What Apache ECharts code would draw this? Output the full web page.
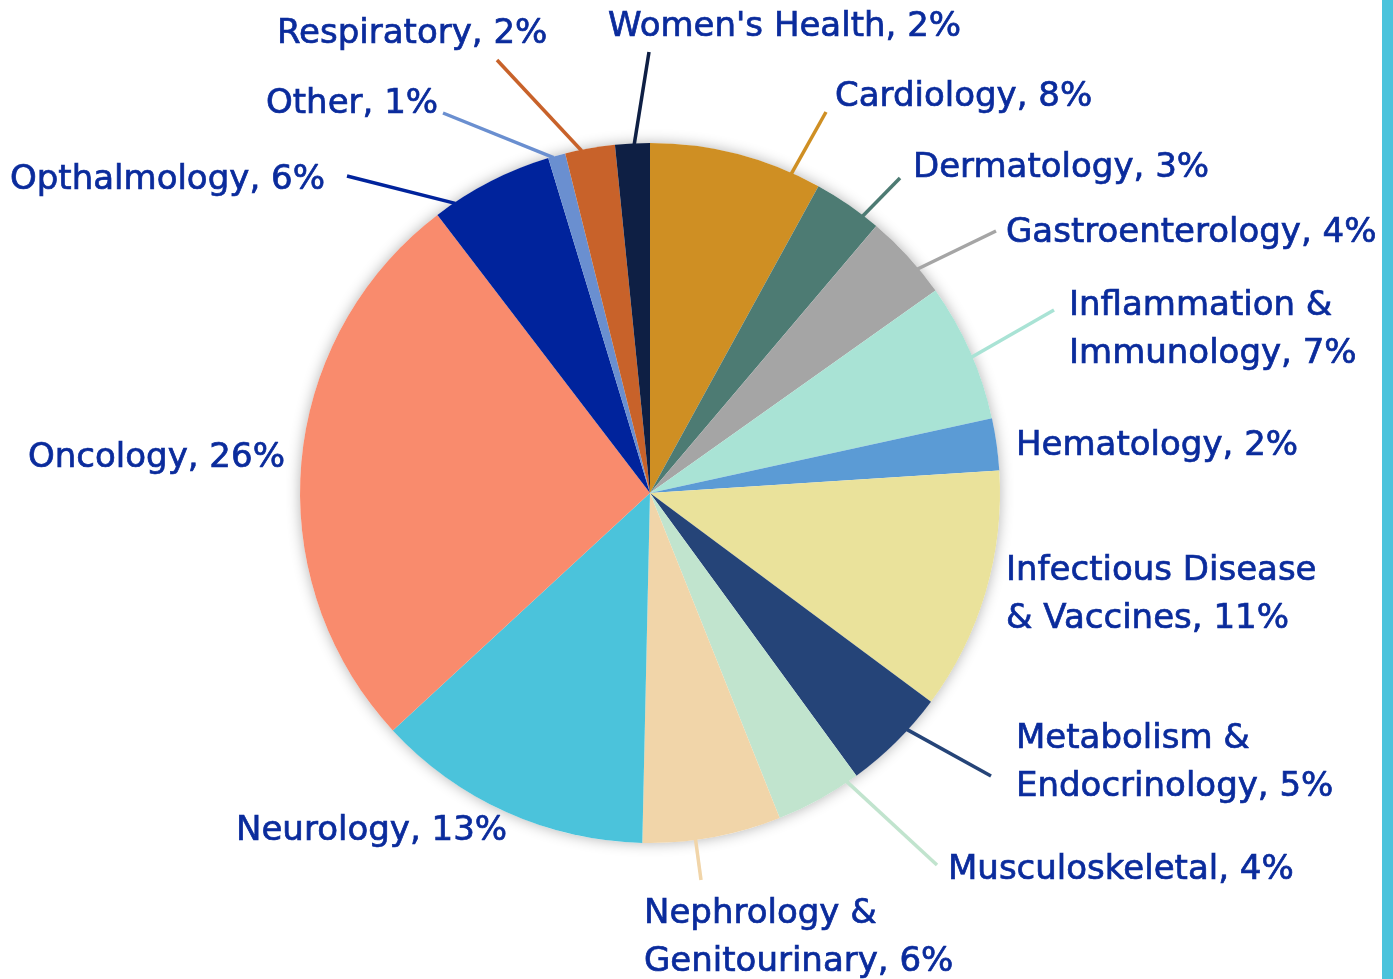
<!DOCTYPE html>
<html>
<head>
<meta charset="utf-8">
<script src="https://cdn.jsdelivr.net/npm/echarts@6/dist/echarts.min.js"></script>
<style>
html,body{margin:0;padding:0;background:#ffffff;}
#chart{width:1393px;height:979px;}
</style>
</head>
<body>
<div id="chart"></div>
<script>
// ---- data ----
const categories = [
  'Cardiology', 'Dermatology', 'Gastroenterology', 'Inflammation &\nImmunology',
  'Hematology', 'Infectious Disease\n& Vaccines', 'Metabolism &\nEndocrinology',
  'Musculoskeletal', 'Nephrology &\nGenitourinary', 'Neurology', 'Oncology',
  'Opthalmology', 'Other', 'Respiratory', "Women's Health"
];
// slice sizes (percent of the circle)
const shares = [8.0, 3.2, 4.0, 6.4, 2.4, 11.2, 4.8, 4.0, 6.4, 12.8, 26.5, 5.7, 0.8, 2.3, 1.6];
// percentages as printed in the labels
const printedPct = [8, 3, 4, 7, 2, 11, 5, 4, 6, 13, 26, 6, 1, 2, 2];

// ---- layout & styles ----
const PIE_CX = 650, PIE_CY = 493, PIE_R = 350;
const LEADER_WIDTH = 3.5;
const sliceColors = [
  '#CF8F23', '#4D7B73', '#A5A5A5', '#A9E3D5', '#5B9BD5', '#EAE29B', '#254478',
  '#C1E4CE', '#F1D5A9', '#4BC3DB', '#F98B6D', '#00239C', '#6A8FD0', '#C8622A', '#0E1F44'
];
// label anchor: left edge x, vertical middle y
const labelAnchor = [
  [835, 97], [913, 168], [1006, 233], [1069, 330], [1016, 446], [1006, 595],
  [1016, 763], [948, 870], [644, 938], [236, 831], [28, 458], [10, 180],
  [266, 104], [277, 34], [608, 27]
];
// where along its slice (0..1 of the slice's arc) a leader line leaves the pie; null = no leader
const leaderAt = [0.83, 0.76, 0.68, 0.54, null, null, 0.35, 0.13, 0.62, null, null, 0.17, 0.3, 0.33, 0.55];
// outer end of each leader line (next to its label)
const leaderEnd = [
  [826, 112], [900, 178], [996, 231], [1054, 310], null, null,
  [991, 776], [937, 865], [701, 880], null, null, [347, 176],
  [443, 113], [497, 60], [649, 52]
];

const total = shares.reduce(function (a, b) { return a + b; }, 0);
const cumStart = [];
shares.reduce(function (acc, v, i) { cumStart[i] = acc; return acc + v; }, 0);

const seriesData = categories.map(function (name, i) {
  return {
    name: name,
    value: shares[i],
    pct: printedPct[i],
    itemStyle: { color: sliceColors[i] },
    labelLine: { show: leaderAt[i] !== null, lineStyle: { color: sliceColors[i], width: LEADER_WIDTH, opacity: 1 } }
  };
});

const chart = echarts.init(document.getElementById('chart'), null, { renderer: 'canvas' });

chart.setOption({
  animation: false,
  backgroundColor: '#ffffff',
  graphic: [{
    type: 'rect', right: 0, top: 0, z: 0,
    shape: { width: 11, height: 979 },
    style: { fill: '#4BC3DC' }
  }],
  series: [
    {
      type: 'pie',
      center: [PIE_CX, PIE_CY],
      radius: PIE_R,
      silent: true,
      z: 1,
      data: [{ value: 1 }],
      itemStyle: { color: '#ffffff', shadowBlur: 14, shadowColor: 'rgba(0,0,0,0.30)' },
      label: { show: false },
      labelLine: { show: false }
    },
    {
      type: 'pie',
      center: [PIE_CX, PIE_CY],
      radius: PIE_R,
      startAngle: 90,
      clockwise: true,
      z: 2,
      avoidLabelOverlap: false,
      data: seriesData,
      itemStyle: { borderWidth: 0 },
      label: {
        show: true,
        position: 'outside',
        color: '#0A2B9C',
        fontFamily: 'DejaVu Sans',
        fontSize: 34,
        lineHeight: 48,
        textBorderColor: '#0A2B9C',
        textBorderWidth: 0.7,
        formatter: function (p) { return p.name + ', ' + p.data.pct + '%'; }
      },
      labelLine: { show: true, length: 20, length2: 10, lineStyle: { width: LEADER_WIDTH } },
      labelLayout: function (p) {
        const i = p.dataIndex;
        const a = labelAnchor[i];
        const res = { x: a[0], y: a[1], align: 'left', verticalAlign: 'middle' };
        if (leaderAt[i] !== null) {
          const ang = (cumStart[i] + leaderAt[i] * shares[i]) / total * 2 * Math.PI;
          const r = PIE_R - 1;
          const s = [PIE_CX + r * Math.sin(ang), PIE_CY - r * Math.cos(ang)];
          res.labelLinePoints = [s, leaderEnd[i]];
        }
        return res;
      }
    }
  ]
});
</script>
</body>
</html>
